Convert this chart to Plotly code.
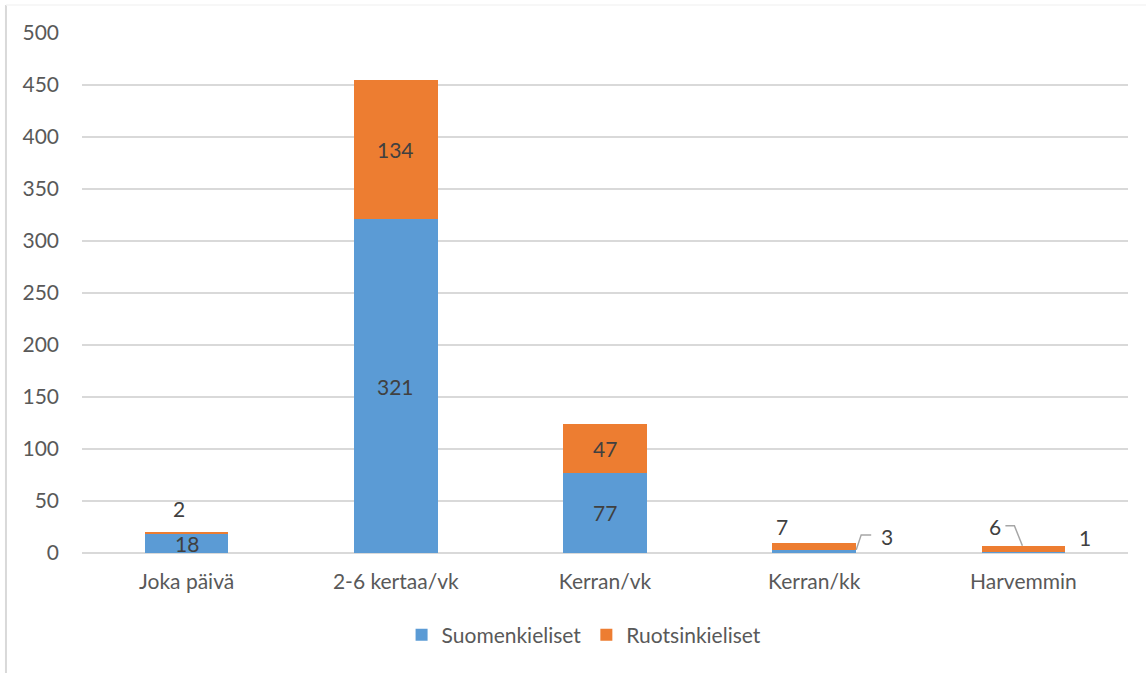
import plotly.graph_objects as go

categories = ["Joka päivä", "2-6 kertaa/vk", "Kerran/vk", "Kerran/kk", "Harvemmin"]
suomenkieliset = [18, 321, 77, 3, 1]
ruotsinkieliset = [2, 134, 47, 7, 6]
series_names = ["Suomenkieliset", "Ruotsinkieliset"]
y_ticks = [0, 50, 100, 150, 200, 250, 300, 350, 400, 450, 500]

BLUE = "#5B9BD5"
ORANGE = "#ED7D31"
FONT = "Lato"
TXT = "#404040"
FS = 21

fig = go.Figure()
fig.add_trace(go.Bar(x=categories, y=suomenkieliset, name=series_names[0],
                     marker_color=BLUE, marker_line_width=0))
fig.add_trace(go.Bar(x=categories, y=ruotsinkieliset, name=series_names[1],
                     marker_color=ORANGE, marker_line_width=0))

annotations = []
shapes = []
# label placement style: (series, category index) -> (xshift, yshift) relative to segment top
special = {
    (1, 0): (-8, 24),
    (1, 3): (-32, 16),
    (0, 3): (73, 13),
    (1, 4): (-28, 19),
    (0, 4): (62, 14),
}
for i, cat in enumerate(categories):
    s, r = suomenkieliset[i], ruotsinkieliset[i]
    for k, (val, base) in enumerate([(s, 0), (r, s)]):
        key = (k, i)
        if key in special:
            dx, dy = special[key]
            annotations.append(dict(x=i, y=base + val, text=str(val), showarrow=False,
                                    xshift=dx, yshift=dy, yanchor="middle",
                                    font=dict(family=FONT, size=FS, color=TXT)))
        else:
            annotations.append(dict(x=i, y=base + val / 2, text=str(val), showarrow=False,
                                    yanchor="middle",
                                    font=dict(family=FONT, size=FS, color=TXT)))

# leader lines (pixel paths anchored to bar tops)
lead = dict(color="#A6A6A6", width=1.5)
shapes.append(dict(type="path", xref="x", yref="y", xsizemode="pixel", ysizemode="pixel",
                   xanchor=3, yanchor=suomenkieliset[3],
                   path="M 42,0 L 47,15 L 57,15", line=lead))
shapes.append(dict(type="path", xref="x", yref="y", xsizemode="pixel", ysizemode="pixel",
                   xanchor=4, yanchor=suomenkieliset[4] + ruotsinkieliset[4],
                   path="M -1,0 L -9,20 L -18,20", line=lead))
# chart border at left and top
shapes.append(dict(type="line", xref="paper", yref="paper",
                   x0=-0.0727, x1=-0.0727, y0=-0.235, y1=1.054,
                   line=dict(color="#D9D9D9", width=2)))
shapes.append(dict(type="line", xref="paper", yref="paper",
                   x0=-0.0727, x1=1.02, y0=1.054, y1=1.054,
                   line=dict(color="#F4F4F4", width=1.5)))

fig.update_layout(
    barmode="stack",
    bargap=0.6,
    width=1146, height=673,
    margin=dict(l=82, r=18, t=33, b=120),
    paper_bgcolor="white", plot_bgcolor="white",
    font=dict(family=FONT, size=FS, color="#595959"),
    showlegend=True,
    legend=dict(orientation="h", x=0.48, xanchor="center", y=-0.158, yanchor="middle",
                font=dict(family=FONT, size=FS, color="#595959"),
                itemwidth=30, traceorder="normal"),
    annotations=annotations,
    shapes=shapes,
    xaxis=dict(showgrid=False, showline=False, ticks="", tickfont=dict(size=FS),
               ticklabelstandoff=14),
    yaxis=dict(range=[0, 500], tickvals=y_ticks, showgrid=True, gridcolor="#D9D9D9",
               gridwidth=1.5, zeroline=True, zerolinecolor="#D9D9D9", zerolinewidth=1.5,
               showline=False, ticks="", tickfont=dict(size=FS), ticklabelstandoff=22),
)

fig.write_html("out.html", config={"displayModeBar": False},
               post_script="document.body.style.margin='0';")
